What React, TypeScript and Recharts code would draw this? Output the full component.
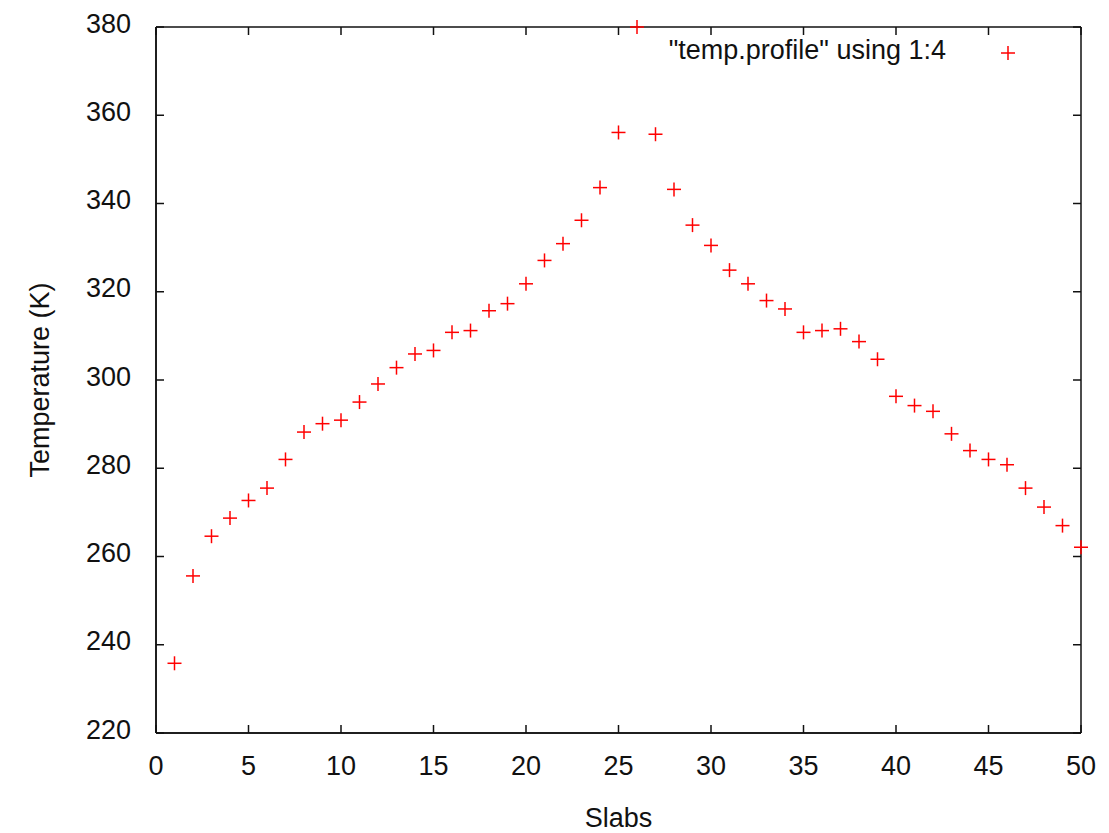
import { ScatterChart, Scatter, XAxis, YAxis, Legend, CartesianGrid } from 'recharts';

const slabs = [
  1, 2, 3, 4, 5, 6, 7, 8, 9, 10, 11, 12, 13, 14, 15, 16, 17, 18, 19, 20, 21, 22, 23, 24, 25,
  26, 27, 28, 29, 30, 31, 32, 33, 34, 35, 36, 37, 38, 39, 40, 41, 42, 43, 44, 45, 46, 47, 48, 49, 50,
];
const temps = [
  235.8, 255.6, 264.6, 268.7, 272.7, 275.5, 282.0, 288.2, 290.1, 290.9,
  295.0, 299.1, 302.8, 305.9, 306.7, 310.8, 311.2, 315.7, 317.3, 321.8,
  327.1, 330.9, 336.2, 343.6, 356.1, 380.0, 355.7, 343.2, 335.1, 330.5,
  324.9, 321.8, 318.0, 316.1, 310.8, 311.2, 311.6, 308.7, 304.7, 296.3,
  294.2, 292.9, 287.8, 284.0, 282.0, 280.8, 275.5, 271.2, 267.0, 262.1,
];
const xTicks = [0, 5, 10, 15, 20, 25, 30, 35, 40, 45, 50];
const yTicks = [220, 240, 260, 280, 300, 320, 340, 360, 380];
const seriesName = '"temp.profile" using 1:4';

const data = slabs.map((s, i) => ({ x: s, y: temps[i] }));

const FONT = '"Liberation Sans", Arial, sans-serif';
const RED = '#ff0000';
const INK = '#111';
const TICK_LEN = 8;
const W = 1101;
const H = 825;
const X_AXIS_H = 100;
const MARGIN = { top: 19, right: 28, left: 0, bottom: 0 };
const PLOT_BOTTOM = H - MARGIN.bottom - X_AXIS_H;
const PLOT_RIGHT = W - MARGIN.right;
const AXIS_LINE = { stroke: INK, strokeWidth: 1.5 };

const Plus = (props: any) => {
  const { cx, cy } = props;
  if (cx == null || cy == null) return null;
  return (
    <g stroke={RED} strokeWidth={1.5}>
      <line x1={cx - 7} y1={cy} x2={cx + 7} y2={cy} />
      <line x1={cx} y1={cy - 7} x2={cx} y2={cy + 7} />
    </g>
  );
};

// bottom tick: inward mark at the bottom and mirrored one at the top border
const BottomTick = (props: any) => {
  const { x, payload } = props;
  return (
    <g>
      <path d={`M${x},${PLOT_BOTTOM}v${-TICK_LEN}`} stroke={INK} strokeWidth={1.5} />
      <path d={`M${x},${MARGIN.top}v${TICK_LEN}`} stroke={INK} strokeWidth={1.5} />
      <text x={x} y={PLOT_BOTTOM + 42} textAnchor="middle" fontSize={27} fontFamily={FONT} fill={INK} stroke="none">
        {payload.value}
      </text>
    </g>
  );
};

// left tick: inward mark at the left and mirrored one at the right border
const LeftTick = (props: any) => {
  const { x, y, payload } = props;
  return (
    <g>
      <path d={`M${x},${y}h${TICK_LEN}`} stroke={INK} strokeWidth={1.5} />
      <path d={`M${PLOT_RIGHT},${y}h${-TICK_LEN}`} stroke={INK} strokeWidth={1.5} />
      <text x={x - 25} y={y - 4} dy="0.355em" textAnchor="end" fontSize={27} fontFamily={FONT} fill={INK} stroke="none">
        {payload.value}
      </text>
    </g>
  );
};

const KeyBox = () => (
  <div style={{ display: 'flex', alignItems: 'center', height: 30, fontFamily: FONT, fontSize: 27, color: INK }}>
    <span style={{ position: 'relative', top: -3, whiteSpace: 'nowrap' }}>{seriesName}</span>
    <svg width={14} height={14} style={{ marginLeft: 55 }}>
      <line x1={0} y1={7} x2={14} y2={7} stroke={RED} strokeWidth={1.5} />
      <line x1={7} y1={0} x2={7} y2={14} stroke={RED} strokeWidth={1.5} />
    </svg>
  </div>
);

export default function App() {
  return (
    <ScatterChart width={W} height={H} margin={MARGIN}>
      <CartesianGrid
        stroke={INK}
        strokeWidth={1.5}
        horizontalCoordinatesGenerator={({ offset }: any) => [offset.top, offset.top + offset.height]}
        verticalCoordinatesGenerator={({ offset }: any) => [offset.left, offset.left + offset.width]}
      />
      <XAxis
        type="number"
        dataKey="x"
        domain={[0, 50]}
        ticks={xTicks}
        interval={0}
        height={X_AXIS_H}
        tickSize={0}
        tickMargin={0}
        tick={<BottomTick />}
        tickLine={false}
        axisLine={AXIS_LINE}
        label={{ value: 'Slabs', position: 'insideBottom', offset: 6, fontSize: 27, fontFamily: FONT, fill: INK }}
      />
      <YAxis
        type="number"
        dataKey="y"
        domain={[220, 380]}
        ticks={yTicks}
        interval={0}
        width={148}
        tickSize={0}
        tickMargin={0}
        tick={<LeftTick />}
        tickLine={false}
        axisLine={AXIS_LINE}
        label={{
          value: 'Temperature (K)',
          angle: -90,
          position: 'insideLeft',
          offset: 31,
          fontSize: 27,
          fontFamily: FONT,
          fill: INK,
          style: { textAnchor: 'middle' },
        }}
      />
      <Legend
        layout="horizontal"
        align="center"
        verticalAlign="middle"
        content={<KeyBox />}
        wrapperStyle={{ position: 'absolute', top: 30, right: 94, left: 'auto', width: 'auto' }}
      />
      <Scatter name={seriesName} data={data} shape={<Plus />} isAnimationActive={false} />
    </ScatterChart>
  );
}
